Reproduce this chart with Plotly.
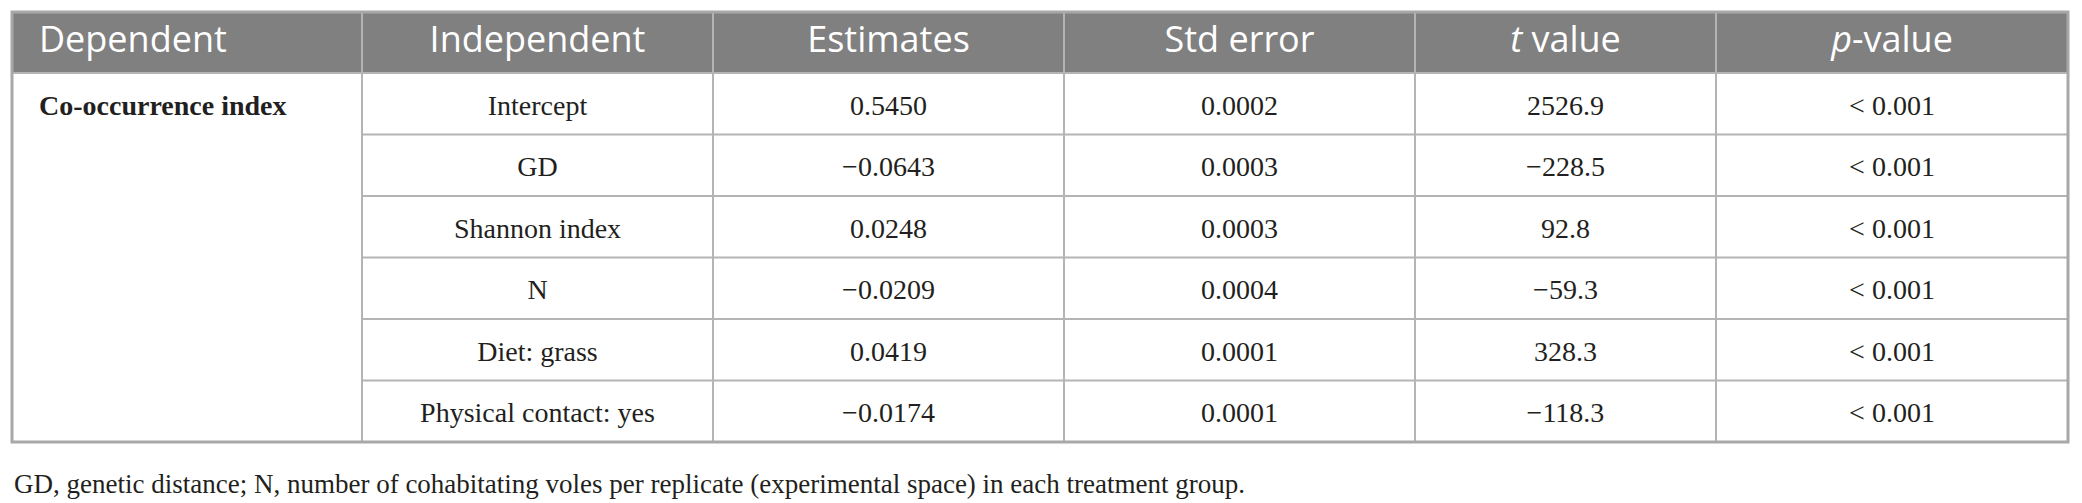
import plotly.graph_objects as go

# table content
headers = ["Dependent", "Independent", "Estimates", "Std error", "<i>t</i> value", "<i>p</i>-value"]
dependent = "Co-occurrence index"
independent = ["Intercept", "GD", "Shannon index", "N", "Diet: grass", "Physical contact: yes"]
estimates = ["0.5450", "−0.0643", "0.0248", "−0.0209", "0.0419", "−0.0174"]
std_error = ["0.0002", "0.0003", "0.0003", "0.0004", "0.0001", "0.0001"]
t_value = ["2526.9", "−228.5", "92.8", "−59.3", "328.3", "−118.3"]
p_value = ["< 0.001", "< 0.001", "< 0.001", "< 0.001", "< 0.001", "< 0.001"]
footnote = ("GD, genetic distance; N, number of cohabitating voles per replicate "
            "(experimental space) in each treatment group.")

W, H = 2082, 503
left, top = 12, 12
col_widths = [350, 351, 351, 351, 301, 352]
header_h = 61
row_h = 61.5
pad = 27
text_dy = 4

x_edges = [left]
for w in col_widths:
    x_edges.append(x_edges[-1] + w)
y_edges = [top, top + header_h]
for _ in independent:
    y_edges.append(y_edges[-1] + row_h)

centers = [(x_edges[i] + x_edges[i + 1]) / 2 for i in range(len(col_widths))]
row_mid = [(y_edges[i + 1] + y_edges[i + 2]) / 2 + text_dy for i in range(len(independent))]

line_col = "#b4b4b4"
border_col = "#a8a8a8"
header_bg = "#808080"
ink = "#231f20"
serif = "Liberation Serif, Times New Roman, serif"
sans = "Open Sans, Noto Sans, sans-serif"

fig = go.Figure()

# header labels
hy = (y_edges[0] + y_edges[1]) / 2
fig.add_trace(go.Scatter(
    x=[x_edges[0] + pad], y=[hy], mode="text", text=[headers[0]],
    textposition="middle right", textfont=dict(family=sans, size=36, color="white"),
    hoverinfo="skip", showlegend=False))
fig.add_trace(go.Scatter(
    x=centers[1:], y=[hy] * 5, mode="text", text=headers[1:],
    textposition="middle center", textfont=dict(family=sans, size=36, color="white"),
    hoverinfo="skip", showlegend=False))

# body cells
columns = [independent, estimates, std_error, t_value, p_value]
xs, ys, txt = [], [], []
for j, col in enumerate(columns):
    for i, val in enumerate(col):
        xs.append(centers[j + 1])
        ys.append(row_mid[i])
        txt.append(val)
fig.add_trace(go.Scatter(
    x=xs, y=ys, mode="text", text=txt, textposition="middle center",
    textfont=dict(family=serif, size=28, color=ink),
    hoverinfo="skip", showlegend=False))
fig.add_trace(go.Scatter(
    x=[x_edges[0] + pad], y=[row_mid[0]], mode="text", text=["<b>" + dependent + "</b>"],
    textposition="middle right", textfont=dict(family=serif, size=28, color=ink),
    hoverinfo="skip", showlegend=False))

# grid
shapes = [dict(type="rect", xref="x", yref="y", x0=x_edges[0], x1=x_edges[-1],
               y0=y_edges[0], y1=y_edges[1], fillcolor=header_bg, line_width=0, layer="below")]
for x in x_edges[1:-1]:
    shapes.append(dict(type="line", xref="x", yref="y", x0=x, x1=x, y0=y_edges[0], y1=y_edges[-1],
                       line=dict(color=line_col, width=2)))
shapes.append(dict(type="line", xref="x", yref="y", x0=x_edges[0], x1=x_edges[-1],
                   y0=y_edges[1], y1=y_edges[1], line=dict(color=line_col, width=2)))
for y in y_edges[2:-1]:
    shapes.append(dict(type="line", xref="x", yref="y", x0=x_edges[1], x1=x_edges[-1],
                       y0=y, y1=y, line=dict(color=line_col, width=2)))
shapes.append(dict(type="rect", xref="x", yref="y", x0=x_edges[0], x1=x_edges[-1],
                   y0=y_edges[0], y1=y_edges[-1], line=dict(color=border_col, width=3)))

fig.update_layout(
    width=W, height=H,
    margin=dict(l=0, r=0, t=0, b=0),
    paper_bgcolor="white", plot_bgcolor="white",
    xaxis=dict(range=[0, W], visible=False, fixedrange=True),
    yaxis=dict(range=[H, 0], visible=False, fixedrange=True),
    shapes=shapes,
    annotations=[dict(x=x_edges[0], y=484, xref="x", yref="y", text=footnote, showarrow=False,
                      xanchor="left", yanchor="middle",
                      font=dict(family=serif, size=27, color=ink))],
)

fig.write_html("out.html", config={"displayModeBar": False},
               post_script="document.body.style.margin='0';document.body.style.overflow='hidden';")
